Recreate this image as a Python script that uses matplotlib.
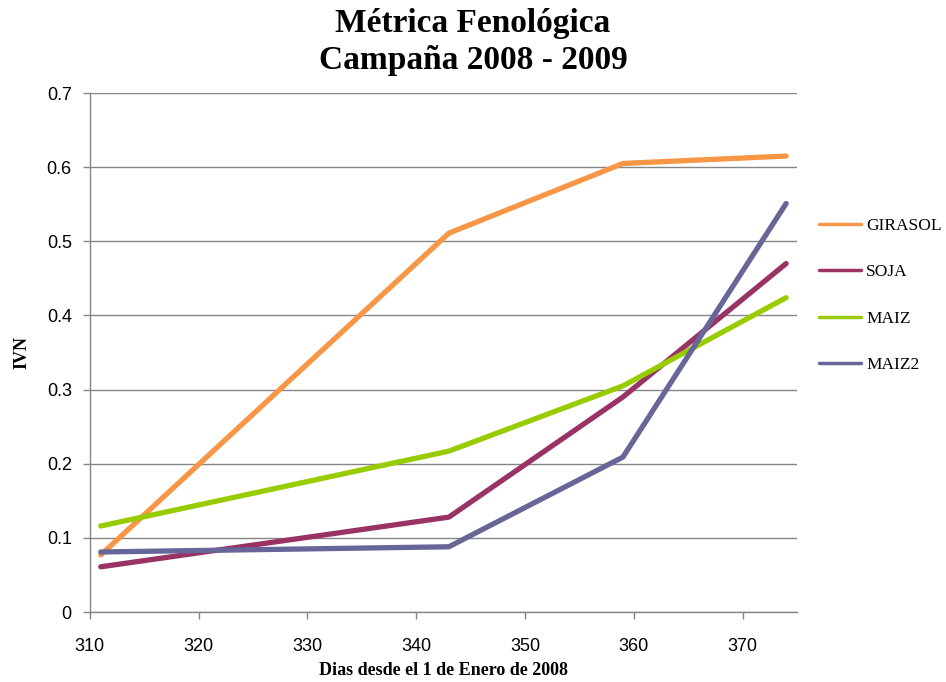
import matplotlib.pyplot as plt
from matplotlib import font_manager

# Days since 1 Jan 2008 and NDVI (IVN) values for each crop
dias = [311, 343, 359, 374]
girasol = [0.077, 0.511, 0.605, 0.615]
soja = [0.061, 0.128, 0.290, 0.470]
maiz = [0.116, 0.217, 0.305, 0.424]
maiz2 = [0.081, 0.088, 0.209, 0.551]

series = [('GIRASOL', girasol, '#F79646'),
          ('SOJA', soja, '#993366'),
          ('MAIZ', maiz, '#99CC00'),
          ('MAIZ2', maiz2, '#666699')]

xticks = [310, 320, 330, 340, 350, 360, 370]
yticks = [0, 0.1, 0.2, 0.3, 0.4, 0.5, 0.6, 0.7]

installed = {f.name for f in font_manager.fontManager.ttflist}
tick_font = 'Liberation Sans Narrow' if 'Liberation Sans Narrow' in installed else 'Liberation Sans'
serif = 'Liberation Serif'
grid_col = '#868686'

fig = plt.figure(figsize=(9.46, 6.82), dpi=100)
ax = fig.add_axes([0.095, 0.1026, 0.7475, 0.761])

for name, vals, col in series:
    ax.plot(dias, vals, color=col, linewidth=3.8, solid_capstyle='round',
            solid_joinstyle='round', label=name)

ax.set_xlim(310, 375)
ax.set_ylim(0, 0.7)
ax.set_xticks(xticks)
ax.set_yticks(yticks)
ax.set_xticklabels([str(t) for t in xticks], fontfamily=tick_font, fontsize=13)
ax.set_yticklabels([f'{t:g}' for t in yticks], fontfamily=tick_font, fontsize=13)
ax.tick_params(axis='both', direction='out', length=5, color=grid_col, width=1)
ax.tick_params(axis='x', pad=14)
ax.tick_params(axis='y', pad=8)

ax.yaxis.grid(True, color=grid_col, linewidth=1)
ax.set_axisbelow(True)
for side in ['top', 'right']:
    ax.spines[side].set_visible(False)
for side in ['left', 'bottom']:
    ax.spines[side].set_color(grid_col)
    ax.spines[side].set_linewidth(1)

ax.set_xlabel('Dias desde el 1 de Enero de 2008', fontfamily=serif,
              fontweight='bold', fontsize=13, labelpad=5)
ax.set_ylabel('IVN', fontfamily=serif, fontweight='bold', fontsize=13, labelpad=12)

fig.text(0.5, 0.966, 'Métrica Fenológica', ha='center', va='center',
         fontfamily=serif, fontweight='bold', fontsize=24)
fig.text(0.5, 0.911, 'Campaña 2008 - 2009', ha='center', va='center',
         fontfamily=serif, fontweight='bold', fontsize=24)

leg = ax.legend(loc='center left', bbox_to_anchor=(0.866, 0.567),
                bbox_transform=fig.transFigure, frameon=False,
                prop={'family': serif, 'size': 12.5}, handlelength=2.4,
                handletextpad=0.3, labelspacing=1.75, borderpad=0, borderaxespad=0)
for line in leg.get_lines():
    line.set_linewidth(2.5)

fig.savefig('out.png', dpi=100)
